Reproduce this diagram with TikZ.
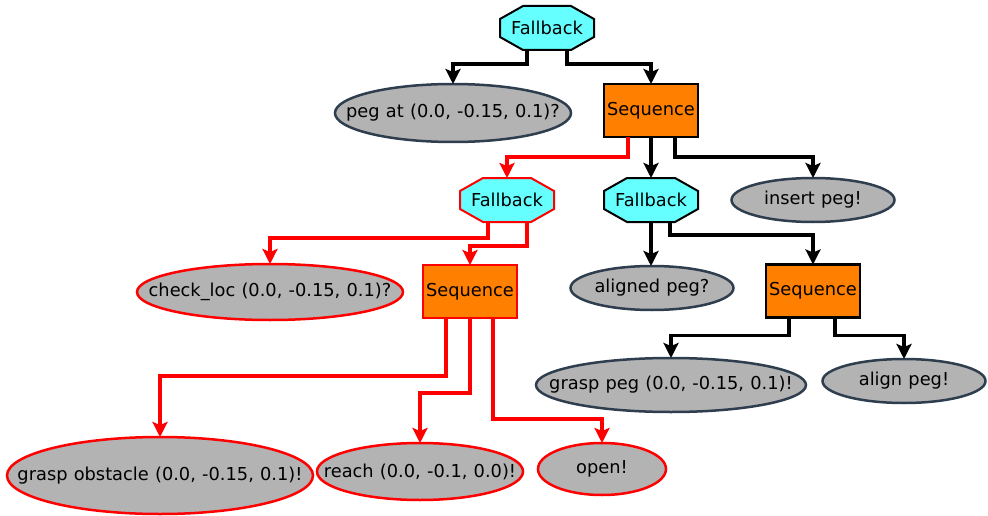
\documentclass[tikz,border=0pt]{standalone}
\usepackage{fontspec}
\setmainfont{DejaVu Sans}[WordSpace=1.1]
\usetikzlibrary{shapes.geometric,arrows.meta}
\definecolor{fbcyan}{HTML}{66FFFF}
\definecolor{seqorange}{HTML}{FF8000}
\definecolor{leafgray}{HTML}{B3B3B3}
\definecolor{leafedge}{HTML}{2E3E4E}
\definecolor{active}{HTML}{FF0000}

% octagonal fallback node: name, x, y, label, border colour
\newcommand{\fallbacknode}[5]{%
  \filldraw[fbshape, draw=#5, shift={(#2,#3)}]
    (-24,-22) -- (24,-22) -- (47,-9) -- (47,9) -- (24,22) -- (-24,22) -- (-47,9) -- (-47,-9) -- cycle;
  \node[fbtext] (#1) at (#2,#3) {#4};
}
% centred label of zero width, so the ellipse keeps its given size
\newcommand{\leaftext}[1]{\makebox[0pt]{#1}}

\begin{document}
\begin{tikzpicture}[x=1pt,y=-1pt,
  every node/.style={font=\fontsize{17.8}{20}\selectfont, inner sep=0pt, outer sep=0pt},
  leaf/.style={ellipse, draw=leafedge, fill=leafgray, line width=2.5pt},
  leafon/.style={leaf, draw=active},
  seqbox/.style={rectangle, draw=black, fill=seqorange, line width=2.5pt,
    minimum width=94pt, minimum height=53pt},
  seqon/.style={seqbox, draw=active},
  fbtext/.style={rectangle, minimum width=94pt, minimum height=44pt},
  fbshape/.style={fill=fbcyan, line width=2pt, line join=miter},
  edge/.style={line width=3.5pt, -{Stealth[length=15pt,width=15pt,inset=3pt]}},
  edgeon/.style={edge, draw=active},
]
\useasboundingbox (0,0) rectangle (988,516);

% root fallback and its children
\fallbacknode{f1}{547}{28}{Fallback}{black}
\node[leaf, minimum width=236pt, minimum height=58pt] (pegat) at (453,113) {\leaftext{peg at (0.0, -0.15, 0.1)?}};
\node[seqbox] (s1) at (651,110.5) {Sequence};

% second level
\fallbacknode{f2}{507}{200}{Fallback}{active}
\fallbacknode{f3}{651}{200}{Fallback}{black}
\node[leaf, minimum width=163pt, minimum height=44pt] (insert) at (813,200) {\leaftext{insert peg!}};

% third level
\node[leafon, minimum width=266pt, minimum height=56pt] (check) at (270,292) {\leaftext{check\_loc (0.0, -0.15, 0.1)?}};
\node[seqon] (s2) at (470,291.5) {Sequence};
\node[leaf, minimum width=163pt, minimum height=44pt] (aligned) at (652,288) {\leaftext{aligned peg?}};
\node[seqbox] (s3) at (813,291) {Sequence};

% leaves of the lower sequences
\node[leaf, minimum width=270pt, minimum height=54pt] (grasppeg) at (671,385) {\leaftext{grasp peg (0.0, -0.15, 0.1)!}};
\node[leaf, minimum width=163pt, minimum height=44pt] (align) at (904,381) {\leaftext{align peg!}};
\node[leafon, minimum width=306pt, minimum height=77pt] (obstacle) at (160,475.5) {\leaftext{grasp obstacle (0.0, -0.15, 0.1)!}};
\node[leafon, minimum width=206pt, minimum height=57pt] (reach) at (420,471.5) {\leaftext{reach (0.0, -0.1, 0.0)!}};
\node[leafon, minimum width=128pt, minimum height=52pt] (open) at (602,469) {\leaftext{open!}};

% connectors
\draw[edge] ([xshift=-20pt]f1.south) -- ++(0,14) -| (pegat.north);
\draw[edge] ([xshift=20pt]f1.south) -- ++(0,14) -| (s1.north);

\draw[edgeon] ([xshift=-23pt]s1.south) -- ++(0,20) -| (f2.north);
\draw[edge] (s1.south) -- (f3.north);
\draw[edge] ([xshift=24pt]s1.south) -- ++(0,20) -| (insert.north);

\draw[edgeon] ([xshift=-19pt]f2.south) -- ++(0,16) -| (check.north);
\draw[edgeon] ([xshift=20pt]f2.south) -- ++(0,24) -| (s2.north);

\draw[edge] (f3.south) -- (f3.south |- aligned.north);
\draw[edge] ([xshift=19pt]f3.south) -- ++(0,13) -| (s3.north);

\draw[edge] ([xshift=-24pt]s3.south) -- ++(0,18) -| (grasppeg.north);
\draw[edge] ([xshift=22pt]s3.south) -- ++(0,18) -| (align.north);

\draw[edgeon] ([xshift=-24pt]s2.south) -- ++(0,58) -| (obstacle.north);
\draw[edgeon] (s2.south) -- ++(0,75) -| (reach.north);
\draw[edgeon] ([xshift=23pt]s2.south) -- ++(0,101) -| (open.north);
\end{tikzpicture}
\end{document}
